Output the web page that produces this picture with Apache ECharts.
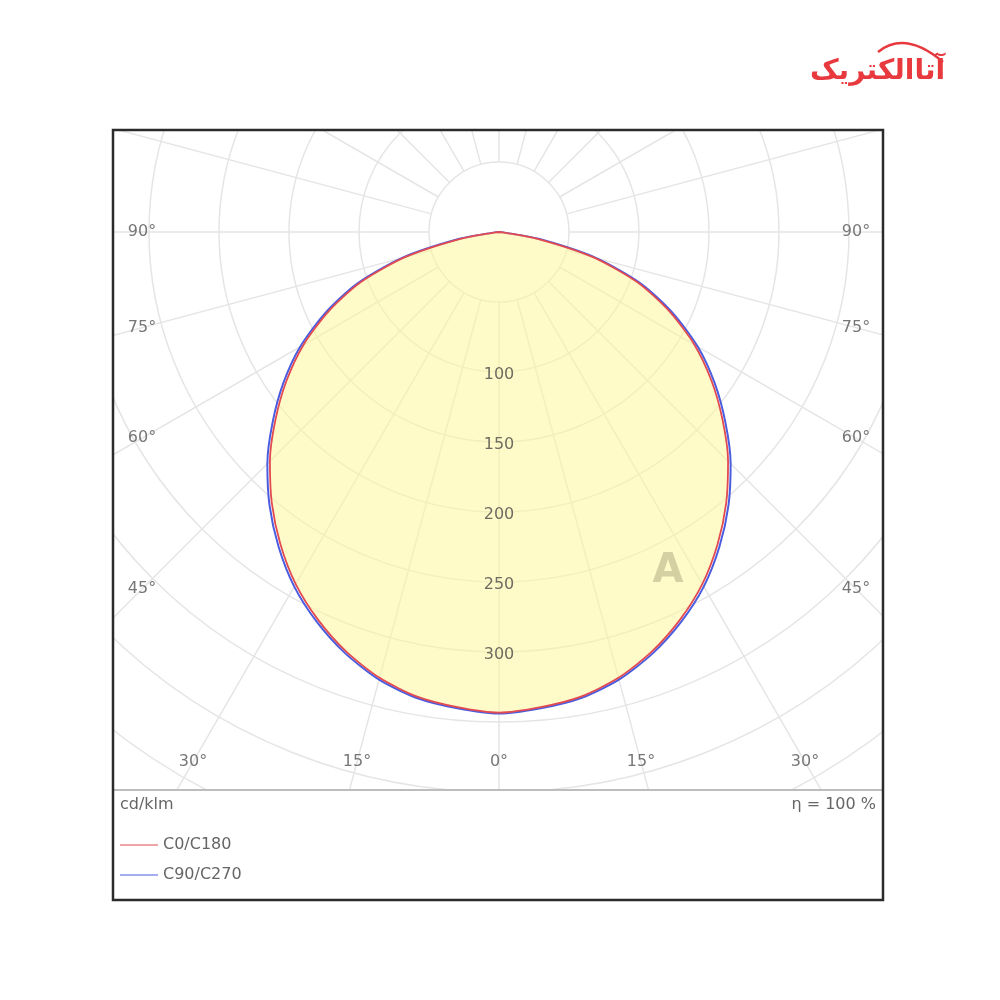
<!DOCTYPE html>
<html>
<head>
<meta charset="utf-8">
<script src="https://cdn.jsdelivr.net/npm/echarts@6/dist/echarts.min.js"></script>
<style>
html,body{margin:0;padding:0;background:#fff;}
#chart{width:1000px;height:1000px;}
</style>
</head>
<body>
<div id="chart"></div>
<script>
// gamma angles (deg from nadir)
const angles = [0,5,10,15,20,25,30,35,40,45,50,55,60,65,70,75,80,85,90];
// C0/C180 intensity, cd/klm
const c0c180 = [343.3,340.7,337,329.7,319,305.7,290.4,272.2,252.5,231.4,208.4,185.3,161.3,134.5,105.5,69.5,28,2.5,0];
// C90/C270 intensity, cd/klm
const c90c270 = [344,341.5,338,331,320.5,307.5,292.5,274.5,255,234,211,188,164,137,108,72,30,3,0];
const radialLabels = [100,150,200,250,300];
const angleLabels = [0,15,30,45,60,75,90];
const seriesNames = ['C0/C180','C90/C270'];
const unitText = 'cd/klm';
const etaText = 'η = 100 %';

const CX = 499, CY = 232;
const RMAX = 700, VMAX = 500;
const RED = '#e24a52', BLUE = '#4b5ddf';

function toPolarData(vals){
  const d = [];
  for (let i = angles.length - 1; i >= 0; i--) d.push([vals[i], angles[i]]);
  for (let i = 1; i < angles.length; i++) d.push([vals[i], 360 - angles[i]]);
  return d;
}

const chart = echarts.init(document.getElementById('chart'), null, {renderer:'canvas'});

const hiddenAngle = {type:'value',min:0,max:360,interval:15,startAngle:270,clockwise:true,
  axisLine:{show:false},axisTick:{show:false},axisLabel:{show:false},splitLine:{show:false}};

const option = {
  animation:false,
  backgroundColor:'#ffffff',
  polar:[
    {center:[CX,CY], radius:[70,RMAX]},
    {center:[CX,CY], radius:[0,RMAX]}
  ],
  angleAxis:[
    Object.assign({}, hiddenAngle, {polarIndex:0, splitLine:{show:true,lineStyle:{color:'#e5e5e5',width:1.5}}}),
    Object.assign({}, hiddenAngle, {polarIndex:1})
  ],
  radiusAxis:[
    {polarIndex:0,type:'value',min:50,max:VMAX,interval:50,
      axisLine:{show:false},axisTick:{show:false},axisLabel:{show:false},
      splitLine:{show:true,lineStyle:{color:'#e5e5e5',width:1.5}}},
    {polarIndex:1,type:'value',min:0,max:VMAX,interval:50,z:10,
      axisLine:{show:false},axisTick:{show:false},splitLine:{show:false},
      axisLabel:{show:true,margin:0,align:'center',verticalAlign:'middle',
        fontFamily:'DejaVu Sans',fontSize:16,color:'#6e6c62',
        formatter:function(v){return radialLabels.indexOf(v)>=0?'{v|'+v+'}':'';},
        rich:{v:{fontFamily:'DejaVu Sans',fontSize:16,color:'#6e6c62',padding:[6,0,0,0]}}}}
  ],
  legend:{orient:'vertical',left:120,top:835,padding:0,icon:'rect',itemWidth:38,itemHeight:1.2,itemGap:10,z:120,
    textStyle:{fontFamily:'DejaVu Sans',fontSize:16,color:'#666',lineHeight:20},
    data:seriesNames},
  series:[
    {name:seriesNames[1],type:'line',coordinateSystem:'polar',polarIndex:1,showSymbol:false,symbol:'none',
      smooth:0.25,color:BLUE,lineStyle:{color:BLUE,width:2},z:3,data:toPolarData(c90c270)},
    {name:seriesNames[0],type:'line',coordinateSystem:'polar',polarIndex:1,showSymbol:false,symbol:'none',
      smooth:0.25,color:RED,lineStyle:{color:RED,width:1.8},z:4,
      areaStyle:{color:'#fff79a',opacity:0.55},data:toPolarData(c0c180)}
  ]
};
chart.setOption(option);

// geometry of the frame
const BOX = {x:113,y:130,w:770,h:770,div:790};
const INSET = {left:142, right:856, bottom:762};
const graphics = [
  {type:'rect',shape:{x:0,y:0,width:1000,height:BOX.y},style:{fill:'#fff'},z:100,silent:true},
  {type:'rect',shape:{x:0,y:0,width:BOX.x,height:1000},style:{fill:'#fff'},z:100,silent:true},
  {type:'rect',shape:{x:BOX.x+BOX.w,y:0,width:1000-BOX.x-BOX.w,height:1000},style:{fill:'#fff'},z:100,silent:true},
  {type:'rect',shape:{x:0,y:BOX.div,width:1000,height:1000-BOX.div},style:{fill:'#fff'},z:100,silent:true},
  {type:'line',shape:{x1:BOX.x,y1:BOX.div,x2:BOX.x+BOX.w,y2:BOX.div},style:{stroke:'#bdbdbd',lineWidth:2},z:110,silent:true},
  {type:'rect',shape:{x:BOX.x,y:BOX.y,width:BOX.w,height:BOX.h},style:{fill:null,stroke:'#2b2b2b',lineWidth:2.5},z:111,silent:true},
  {type:'text',x:120,y:805,style:{text:unitText,fontFamily:'DejaVu Sans',fontSize:16,fill:'#666',verticalAlign:'middle',align:'left'},z:112},
  {type:'text',x:876,y:805,style:{text:etaText,fontFamily:'DejaVu Sans',fontSize:16,fill:'#666',verticalAlign:'middle',align:'right'},z:112},
  // logo
  {type:'text',x:945,y:72,style:{text:'آتاالکتریک',fontFamily:'DejaVu Sans',fontWeight:'bold',fontSize:28,fill:'#e8393e',verticalAlign:'middle',align:'right'},z:112},
  {type:'bezierCurve',shape:{x1:878,y1:52,x2:943,y2:62,cpx1:905,cpy1:30},style:{fill:null,stroke:'#e8393e',lineWidth:2.5},z:112,silent:true},
  // watermark
  {type:'text',x:668,y:572,style:{text:'A',fontFamily:'DejaVu Sans',fontWeight:'bold',fontSize:40,fill:'rgba(150,145,110,0.4)',verticalAlign:'middle',align:'center'},z:50}
];
// angle labels where radial lines meet the inner frame
angleLabels.forEach(function(a){
  const sides = a === 0 ? [1] : [-1, 1];
  sides.forEach(function(s){
    const rad = a * Math.PI / 180;
    const dx = s * Math.sin(rad), dy = Math.cos(rad);
    let t = Infinity;
    if (Math.abs(dx) > 1e-9) t = Math.min(t, ((s < 0 ? INSET.left : INSET.right) - CX) / dx);
    if (dy > 1e-9) t = Math.min(t, (INSET.bottom - CY) / dy);
    graphics.push({type:'text',x:CX + dx * t,y:CY + dy * t,
      style:{text:a + '°',fontFamily:'DejaVu Sans',fontSize:16,fill:'#777',align:'center',verticalAlign:'middle'},z:112});
  });
});
chart.setOption({graphic:graphics});
</script>
</body>
</html>
